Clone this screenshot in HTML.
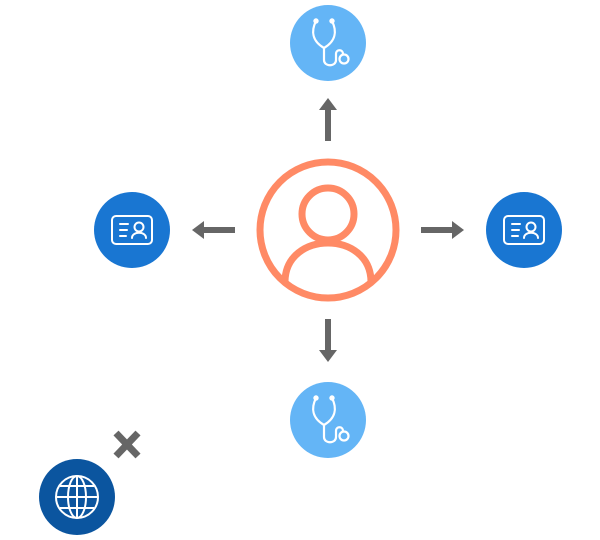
<!DOCTYPE html>
<html><head><style>html,body{margin:0;padding:0;background:#fff;width:600px;height:540px;overflow:hidden}</style></head>
<body>
<svg width="600" height="540" viewBox="0 0 600 540" xmlns="http://www.w3.org/2000/svg">
<defs>
<g id="steth" fill="none" stroke="#fff" stroke-width="2.2" stroke-linecap="round" stroke-linejoin="round">
  <path d="M-12,-22 C-17,-12 -16,-2 -4,5 C8,-2 9,-12 4,-22"/>
  <circle cx="-12" cy="-22" r="1.6" fill="#fff"/>
  <circle cx="4" cy="-22" r="1.6" fill="#fff"/>
  <path d="M-4,5 L-4,17 C-4,24 8,24 8,17 L8,11 C8,6 15,6 15,11"/>
  <circle cx="16" cy="16" r="4.5"/>
</g>
<g id="card" fill="none" stroke="#fff" stroke-width="2" stroke-linecap="round">
  <rect x="-20" y="-14" width="40" height="28" rx="4"/>
  <line x1="-12" y1="-6" x2="-4" y2="-6"/>
  <line x1="-12" y1="0" x2="-5" y2="0"/>
  <line x1="-12" y1="6" x2="-6" y2="6"/>
  <circle cx="7" cy="-3" r="4.5"/>
  <path d="M0,8 C0,1 14,1 14,8"/>
</g>
<g id="arr" fill="#666">
  <rect x="-3" y="10" width="6" height="33"/>
  <polygon points="-9,12 0,0 9,12"/>
</g>
</defs>

<circle cx="328" cy="43" r="38" fill="#64B5F6"/>
<use href="#steth" transform="translate(328,43)"/>
<circle cx="328" cy="420" r="38" fill="#64B5F6"/>
<use href="#steth" transform="translate(328,420)"/>
<circle cx="132" cy="230" r="38" fill="#1976D2"/>
<use href="#card" transform="translate(132,230)"/>
<circle cx="524" cy="230" r="38" fill="#1976D2"/>
<use href="#card" transform="translate(524,230)"/>

<use href="#arr" transform="translate(328,98)"/>
<use href="#arr" transform="translate(328,362) rotate(180)"/>
<use href="#arr" transform="translate(192,230) rotate(-90)"/>
<use href="#arr" transform="translate(464,230) rotate(90)"/>

<g fill="none" stroke="#FF8A65" stroke-width="7">
  <circle cx="328" cy="230" r="68"/>
  <circle cx="328" cy="214" r="26"/>
  <path d="M285,282 C285,230 371,230 371,282"/>
</g>

<g stroke="#666" stroke-width="7" stroke-linecap="butt">
  <line x1="116" y1="433" x2="138" y2="456"/>
  <line x1="138" y1="433" x2="116" y2="456"/>
</g>

<circle cx="77" cy="497" r="38" fill="#0B559F"/>
<g fill="none" stroke="#fff" stroke-width="2">
  <circle cx="77" cy="497" r="21"/>
  <ellipse cx="77" cy="497" rx="9" ry="21"/>
  <line x1="77" y1="476" x2="77" y2="518"/>
  <line x1="56" y1="497" x2="98" y2="497"/>
  <line x1="60" y1="486" x2="94" y2="486"/>
  <line x1="60" y1="508" x2="94" y2="508"/>
</g>
</svg>
</body></html>
